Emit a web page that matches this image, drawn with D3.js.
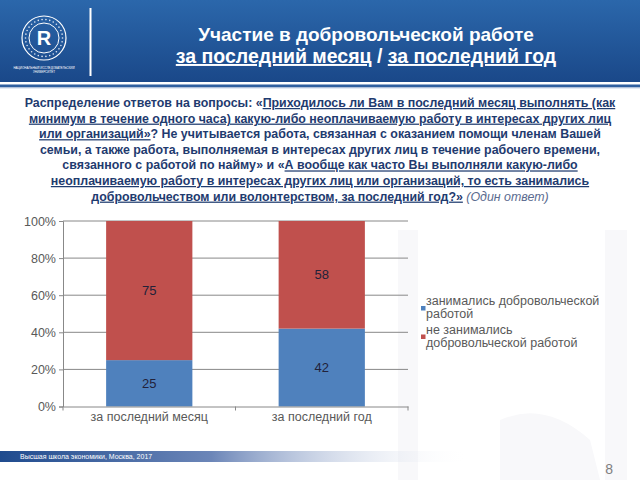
<!DOCTYPE html>
<html><head><meta charset="utf-8">
<script src="https://cdn.jsdelivr.net/npm/d3@7/dist/d3.min.js"></script>
<style>
html,body{margin:0;padding:0;background:#fff;}
svg{display:block;font-family:"Liberation Sans",Arial,sans-serif;}
.u{text-decoration:underline;}
</style></head>
<body><svg id="c" width="640" height="480"></svg>
<script>
const categories = ["за последний месяц", "за последний год"];
const volunteered = [25, 42];
const notVolunteered = [75, 58];
const seriesNames = ["занимались добровольческой работой", "не занимались добровольческой работой"];
const yTicks = [0, 0.2, 0.4, 0.6, 0.8, 1];

const svg = d3.select("#c");
const defs = svg.append("defs");
const hg = defs.append("linearGradient").attr("id","hg").attr("x1",0).attr("y1",0).attr("x2",0).attr("y2",1);
hg.append("stop").attr("offset","0").attr("stop-color","#2b67ab");
hg.append("stop").attr("offset","1").attr("stop-color","#1a4889");
const fg = defs.append("linearGradient").attr("id","fg").attr("x1",0).attr("y1",0).attr("x2",1).attr("y2",0);
fg.append("stop").attr("offset","0").attr("stop-color","#1f4b8e");
fg.append("stop").attr("offset","0.45").attr("stop-color","#6c86b8");
fg.append("stop").attr("offset","1").attr("stop-color","#ffffff").attr("stop-opacity",0);

// faint watermark
const wm = svg.append("g").attr("fill","#f8f8fa");
wm.append("rect").attr("x",398).attr("y",230).attr("width",20).attr("height",250);
wm.append("rect").attr("x",605).attr("y",230).attr("width",22).attr("height",250);
wm.append("path").attr("d","M500 480 L500 420 Q545 400 590 440 L600 480 Z");

// header
svg.append("rect").attr("x",0).attr("y",0).attr("width",640).attr("height",82).attr("fill","url(#hg)");
svg.append("rect").attr("x",0).attr("y",82).attr("width",640).attr("height",2.5).attr("fill","#ffffff");
svg.append("rect").attr("x",0).attr("y",84.5).attr("width",640).attr("height",3).attr("fill","#2f5f9f");
svg.append("rect").attr("x",0).attr("y",87.5).attr("width",640).attr("height",1).attr("fill","#c9d4e6");

// logo
const lg = svg.append("g").attr("transform","translate(44,38)");
lg.append("circle").attr("r",22).attr("fill","none").attr("stroke","#fff").attr("stroke-width",1.2);
lg.append("circle").attr("r",15).attr("fill","none").attr("stroke","#fff").attr("stroke-width",1);
d3.range(30).forEach(i=>{const a=i/30*2*Math.PI;lg.append("circle").attr("cx",18.5*Math.cos(a)).attr("cy",18.5*Math.sin(a)).attr("r",0.8).attr("fill","#dfe6f2");});
lg.append("text").attr("y",7).attr("text-anchor","middle").attr("fill","#fff").attr("font-size",20).attr("font-weight","bold").text("R");
svg.append("text").attr("x",44).attr("y",69).attr("text-anchor","middle").attr("fill","#fff").attr("font-size",3).text("НАЦИОНАЛЬНЫЙ ИССЛЕДОВАТЕЛЬСКИЙ");
svg.append("text").attr("x",44).attr("y",73).attr("text-anchor","middle").attr("fill","#fff").attr("font-size",3).text("УНИВЕРСИТЕТ");
svg.append("rect").attr("x",89.5).attr("y",8).attr("width",2).attr("height",68).attr("fill","#fff");

// title
svg.append("text").attr("x",366).attr("y",41).attr("text-anchor","middle").attr("fill","#fff")
  .attr("font-size",19).attr("font-weight","bold").text("Участие в добровольческой работе");
const t2 = svg.append("text").attr("x",366).attr("y",63).attr("text-anchor","middle").attr("fill","#fff")
  .attr("font-size",19.5).attr("font-weight","bold");
t2.append("tspan").attr("class","u").text("за последний месяц");
t2.append("tspan").text(" / ");
t2.append("tspan").attr("class","u").text("за последний год");

// description
const desc = [
  [["Распределение ответов на вопросы: «",0],["Приходилось ли Вам в последний месяц выполнять (как",1]],
  [["минимум в течение одного часа) какую-либо неоплачиваемую работу в интересах других лиц",1]],
  [["или организаций»",1],["? Не учитывается работа, связанная с оказанием помощи членам Вашей",0]],
  [["семьи, а также работа, выполняемая в интересах других лиц в течение рабочего времени,",0]],
  [["связанного с работой по найму» и «",0],["А вообще как часто Вы выполняли какую-либо",1]],
  [["неоплачиваемую работу в интересах других лиц или организаций, то есть занимались",1]],
  [["добровольчеством или волонтерством, за последний год?»",1],[" (Один ответ)",2]]
];
desc.forEach((line,i)=>{
  const t = svg.append("text").attr("x",320).attr("y",107+i*15.6).attr("text-anchor","middle")
    .attr("font-size",12.4).attr("font-weight","bold").attr("fill","#1f3b6f");
  line.forEach(([s,k])=>{
    const ts = t.append("tspan").text(s);
    if(k===1) ts.attr("class","u");
    if(k===2) ts.attr("font-style","italic").attr("font-weight","normal").attr("fill","#5b6b8f");
  });
});

// chart
const x0=63, x1=408, yTop=221, yBot=406.5;
const x = d3.scaleBand().domain(categories).range([x0,x1]).paddingInner(0.5).paddingOuter(0.25);
const y = d3.scaleLinear().domain([0,1]).range([yBot,yTop]);
const grid = svg.append("g");
yTicks.slice(1).forEach(v=>{
  grid.append("line").attr("x1",x0).attr("x2",x1).attr("y1",y(v)).attr("y2",y(v)).attr("stroke","#888").attr("stroke-width",1);
});
const yAxis = svg.append("g").attr("transform",`translate(${x0},0)`)
  .call(d3.axisLeft(y).tickValues(yTicks).tickFormat(d3.format(".0%")).tickSize(4).tickPadding(3));
yAxis.select(".domain").attr("stroke","#888");
yAxis.selectAll(".tick line").attr("stroke","#888");
yAxis.selectAll("text").attr("font-size",12.5).attr("fill","#595959").attr("font-family","Liberation Sans, Arial, sans-serif");

const rows = categories.map((c,i)=>({cat:c, a:volunteered[i], b:notVolunteered[i]}));
const colors = ["#4f81bd","#c0504d"];
rows.forEach(r=>{
  const tot = r.a + r.b;
  const segs = [[0, r.a/tot, r.a, colors[0]], [r.a/tot, 1, r.b, colors[1]]];
  segs.forEach(([s,e,v,col])=>{
    svg.append("rect").attr("x",x(r.cat)).attr("width",x.bandwidth()).attr("y",y(e)).attr("height",y(s)-y(e)).attr("fill",col);
    svg.append("text").attr("x",x(r.cat)+x.bandwidth()/2).attr("y",(y(s)+y(e))/2+4.5).attr("text-anchor","middle")
      .attr("font-size",13).attr("fill","#22223a").text(v);
  });
});

const xAxis = svg.append("g").attr("transform",`translate(0,${yBot})`)
  .call(d3.axisBottom(x).tickSize(0).tickPadding(6));
xAxis.select(".domain").attr("stroke","#888");
xAxis.selectAll("text").attr("font-size",12.5).attr("fill","#595959").attr("font-family","Liberation Sans, Arial, sans-serif");
[x0, (x0+x1)/2, x1].forEach(v=>svg.append("line").attr("x1",v).attr("x2",v).attr("y1",yBot).attr("y2",yBot+4).attr("stroke","#888"));

// legend
const leg = svg.append("g");
const legLines = [["занимались добровольческой","работой"],["не занимались","добровольческой работой"]];
legLines.forEach((ls,i)=>{
  const by = 305 + i*28.5;
  leg.append("rect").attr("x",421).attr("y",by+1).attr("width",4.5).attr("height",4.5).attr("fill",colors[i]);
  ls.forEach((s,j)=>leg.append("text").attr("x",426).attr("y",by+j*13).attr("font-size",12.5).attr("fill","#595959").text(s));
});

// footer
svg.append("rect").attr("x",0).attr("y",451).attr("width",470).attr("height",11).attr("fill","url(#fg)");
svg.append("text").attr("x",20).attr("y",459).attr("font-size",7).attr("fill","#fff").text("Высшая школа экономики, Москва, 2017");
svg.append("text").attr("x",613).attr("y",474).attr("text-anchor","end").attr("font-size",14).attr("fill","#7f7f7f").text("8");
</script></body></html>
